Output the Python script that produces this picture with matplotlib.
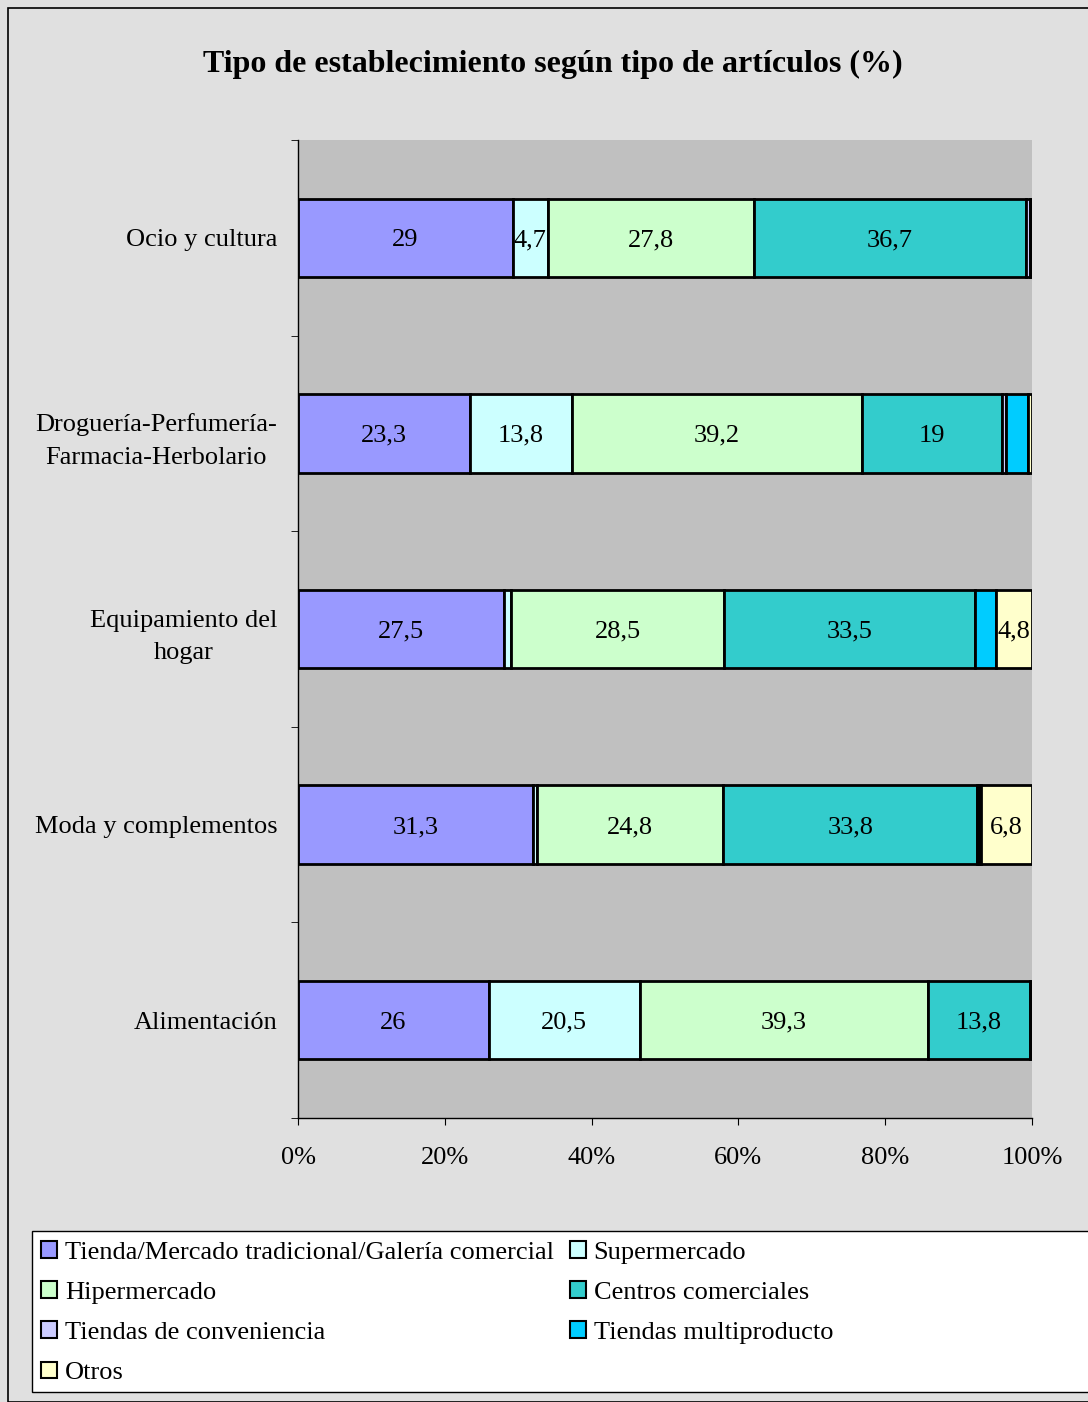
import matplotlib.pyplot as plt
from matplotlib.patches import Rectangle, Patch
import numpy as np

plt.rcParams['font.family'] = ['Liberation Serif', 'DejaVu Serif']

categories = ["Ocio y cultura", "Droguería-Perfumería-\nFarmacia-Herbolario",
              "Equipamiento del\nhogar", "Moda y complementos", "Alimentación"]
series = ["Tienda/Mercado tradicional/Galería comercial", "Supermercado",
          "Hipermercado", "Centros comerciales", "Tiendas de conveniencia",
          "Tiendas multiproducto", "Otros"]
colors = ["#9999FF", "#CCFFFF", "#CCFFCC", "#33CCCC", "#CCCCFF", "#00CCFF", "#FFFFCC"]

# rows: categories, columns: series
tienda = [29, 23.3, 27.5, 31.3, 26]
supermercado = [4.7, 13.8, 1.0, 0.5, 20.5]
hipermercado = [27.8, 39.2, 28.5, 24.8, 39.3]
centros = [36.7, 19, 33.5, 33.8, 13.8]
conveniencia = [0.5, 0.5, 0.0, 0.2, 0.3]
multiproducto = [0.3, 3.0, 2.8, 0.3, 0.0]
otros = [0.0, 0.5, 4.8, 6.8, 0.0]

data = np.array([tienda, supermercado, hipermercado, centros,
                 conveniencia, multiproducto, otros]).T
pct = data / data.sum(axis=1, keepdims=True) * 100

W, H = 1088, 1402
fig = plt.figure(figsize=(W / 100, H / 100), dpi=100)
fig.patch.set_facecolor("#e0e0e0")
fig.patches.append(Rectangle((8 / W, 0), 1.2, 1 - 8 / H, transform=fig.transFigure,
                             fill=False, edgecolor="black", linewidth=1.2))

ax = fig.add_axes([298 / W, 1 - 1118 / H, (1032 - 298) / W, (1118 - 140) / H])
ax.set_facecolor("#c0c0c0")

y = np.arange(len(categories))
left = np.zeros(len(categories))
for j in range(len(series)):
    ax.barh(y, pct[:, j], left=left, height=0.4, color=colors[j],
            edgecolor="black", linewidth=2)
    for i in range(len(categories)):
        v = data[i, j]
        if v >= 4:
            ax.text(left[i] + pct[i, j] / 2, y[i], ("%g" % v).replace(".", ","),
                    ha="center", va="center_baseline", fontsize=19)
    left += pct[:, j]

ax.set_xlim(0, 100)
ax.set_ylim(len(categories) - 0.5, -0.5)
ax.set_xticks(np.arange(0, 101, 20))
ax.set_xticklabels(["%d%%" % v for v in range(0, 101, 20)], fontsize=19)
ax.set_yticks(y)
ax.set_yticklabels(categories, fontsize=19, linespacing=1.6, multialignment="center")
ax.set_yticks(np.arange(-0.5, len(categories), 1), minor=True)
ax.tick_params(axis="y", which="major", length=0, pad=15)
ax.tick_params(axis="y", which="minor", length=5, direction="out")
ax.tick_params(axis="x", length=5, direction="out", pad=16)
for s in ["top", "right"]:
    ax.spines[s].set_visible(False)
for s in ["left", "bottom"]:
    ax.spines[s].set_linewidth(1)

fig.text(553 / W, 1 - 64 / H, "Tipo de establecimiento según tipo de artículos (%)",
         ha="center", va="center", fontsize=23, fontweight="bold")

# legend box
fig.patches.append(Rectangle((32 / W, 1 - 1392 / H), (1100 - 32) / W, (1392 - 1231) / H,
                             transform=fig.transFigure, facecolor="white",
                             edgecolor="black", linewidth=1))
order = [0, 2, 4, 6, 1, 3, 5]
handles = [Patch(facecolor=colors[k], edgecolor="black", linewidth=1.5) for k in order]
labels = [series[k] for k in order]
fig.legend(handles, labels, loc="upper left", bbox_to_anchor=(36 / W, 1 - 1236 / H),
           ncol=2, frameon=False, fontsize=19, handlelength=0.6, handleheight=0.6,
           handletextpad=0.3, columnspacing=0.6, labelspacing=0.66, borderpad=0.2,
           borderaxespad=0)

fig.savefig("out.png", dpi=100, facecolor=fig.get_facecolor())
